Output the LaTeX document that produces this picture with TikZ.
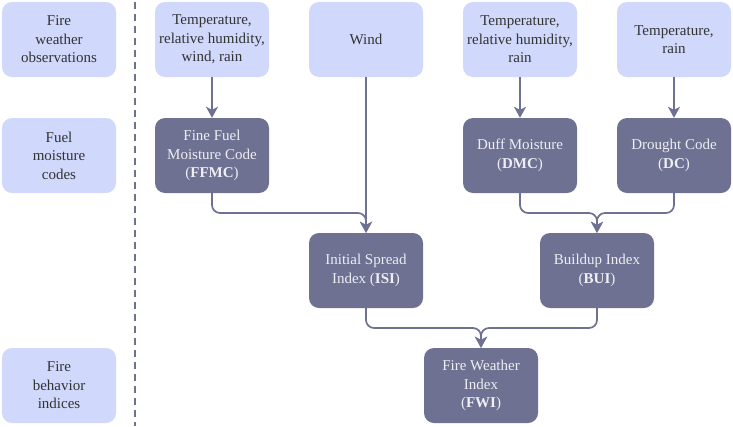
\documentclass[tikz,border=0pt]{standalone}
\usepackage{fontspec}
\setmainfont{Liberation Serif}
\usetikzlibrary{arrows.meta}
\definecolor{lightbox}{HTML}{D0D8FB}
\definecolor{darkbox}{HTML}{6E7191}
\definecolor{lighttext}{HTML}{EEEEF4}
\definecolor{darktext}{HTML}{333333}
\begin{document}
\begin{tikzpicture}[x=1pt,y=-1pt,
  base/.style={rounded corners=10pt, minimum width=114pt, minimum height=75pt,
    align=center, inner sep=2pt, font=\fontsize{15}{18.5}\selectfont},
  lbox/.style={base, fill=lightbox, text=darktext},
  dbox/.style={base, fill=darkbox, text=lighttext},
  conn/.style={draw=darkbox, line width=1.7pt, rounded corners=8pt,
    -{Stealth[length=11pt,width=12pt,inset=3pt]}},
  sep/.style={draw=darkbox, line width=1.4pt, dash pattern=on 7pt off 5pt}
]
\useasboundingbox (0,0) rectangle (733,426);
% left labels
\node[lbox] (obs) at (59,39.5) {Fire\\weather\\observations};
\node[lbox] (fuel) at (59,155.5) {Fuel\\moisture\\codes};
\node[lbox] (beh) at (59,385.5) {Fire\\behavior\\indices};
\coordinate (sT) at (135,2);
\coordinate (sB) at (135,426);
\draw[sep] (sT) -- (sB);
% inputs
\node[lbox] (t1) at (212,39.5) {Temperature,\\relative humidity,\\wind, rain};
\node[lbox] (wind) at (366,39.5) {Wind};
\node[lbox] (t2) at (520,39.5) {Temperature,\\relative humidity,\\rain};
\node[lbox] (t3) at (674,39.5) {Temperature,\\rain};
% codes
\node[dbox] (ffmc) at (212,155.5) {Fine Fuel\\Moisture Code\\(\textbf{FFMC})};
\node[dbox] (dmc) at (520,155.5) {Duff Moisture\\(\textbf{DMC})};
\node[dbox] (dc) at (674,155.5) {Drought Code\\(\textbf{DC})};
% indices
\node[dbox] (isi) at (366,270.5) {Initial Spread\\Index (\textbf{ISI})};
\node[dbox] (bui) at (597,270.5) {Buildup Index\\(\textbf{BUI})};
\node[dbox] (fwi) at (481,385.5) {Fire Weather\\Index\\(\textbf{FWI})};
% junctions
\coordinate (j1) at (366,213);
\coordinate (j2) at (597,213);
\coordinate (j3) at (481,328);
% connectors
\draw[conn] (t1) -- (ffmc);
\draw[conn] (t2) -- (dmc);
\draw[conn] (t3) -- (dc);
\draw[conn] (wind) -- (isi);
\draw[conn] (ffmc.south) |- (j1) -- (isi.north);
\draw[conn] (dmc.south) |- (j2) -- (bui.north);
\draw[conn] (dc.south) |- (j2) -- (bui.north);
\draw[conn] (isi.south) |- (j3) -- (fwi.north);
\draw[conn] (bui.south) |- (j3) -- (fwi.north);
\end{tikzpicture}
\end{document}
